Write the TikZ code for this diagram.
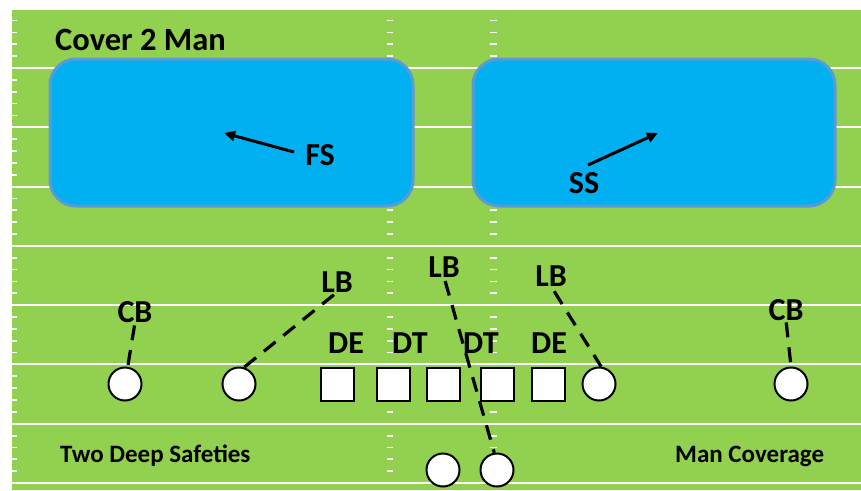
\documentclass[tikz,border=0pt]{standalone}
\usepackage{fontspec}
\setmainfont{Carlito}
\usetikzlibrary{arrows.meta}
\definecolor{turf}{HTML}{92D050}
\definecolor{zonefill}{HTML}{00B0F0}
\definecolor{zoneedge}{HTML}{5B9BD5}
\begin{document}
\begin{tikzpicture}[x=1pt,y=-1pt,
  yardline/.style={white,line width=2pt},
  hashmark/.style={white,line width=1.8pt},
  zone/.style={rectangle,rounded corners=26pt,fill=zonefill,draw=zoneedge,line width=3pt,inner sep=0pt},
  lbl/.style={font=\fontsize{32}{32}\selectfont\bfseries,inner sep=0pt,anchor=base},
  caption/.style={font=\fontsize{25}{25}\selectfont\bfseries,inner sep=0pt,anchor=base west},
  man/.style={circle,draw=black,line width=2pt,fill=white,minimum size=33pt,inner sep=0pt},
  lineman/.style={rectangle,draw=black,line width=2pt,fill=white,minimum size=33pt,inner sep=0pt},
  coverage/.style={line width=3.2pt,dash pattern=on 15pt off 10pt},
  drop/.style={line width=3pt,-{Triangle[length=11pt,width=10pt]}}]
\useasboundingbox (0,0) rectangle (861,490);
% field
\fill[white] (0,0) rectangle (861,490);
\fill[turf] (11,10) rectangle (861,490);
\draw[white,line width=1pt] (11.5,10) -- (11.5,490);
% yard lines
\foreach \k in {0,...,7}
  \draw[yardline] (11,68+59.29*\k) -- (861,68+59.29*\k);
% hash marks: sideline and the two inbound columns
\foreach \k in {-1,...,6}
  \foreach \m in {1,...,4} {
    \draw[hashmark] (11,68+59.29*\k+11.858*\m) -- (17,68+59.29*\k+11.858*\m);
    \draw[hashmark] (387,68+59.29*\k+11.858*\m) -- (393,68+59.29*\k+11.858*\m);
    \draw[hashmark] (490,68+59.29*\k+11.858*\m) -- (497,68+59.29*\k+11.858*\m);
  }
% deep zones
\node[zone,minimum width=363pt,minimum height=147pt] (zoneL) at (231.5,132.5) {};
\node[zone,minimum width=362pt,minimum height=147pt] (zoneR) at (654,132.5) {};
% titles
\node[font=\fontsize{32.5}{33}\selectfont\bfseries,inner sep=0pt,anchor=base west] (title) at (55,50) {Cover 2 Man};
\node[caption] (capL) at (60,462) {Two Deep Safeties};
\node[caption] (capR) at (675,462) {Man Coverage};
% safeties
\node[lbl] (fs) at (320,165) {FS};
\node[lbl] (ss) at (584,193) {SS};
\coordinate (fsTail) at (294,152);
\coordinate (fsTip) at (224,133);
\coordinate (ssTail) at (588,165);
\coordinate (ssTip) at (658,133);
\draw[drop] (fsTail) -- (fsTip);
\draw[drop] (ssTail) -- (ssTip);
% players
\node[man] (cbL) at (125,384) {};
\node[man] (olbL) at (239,384) {};
\node[man] (olbR) at (599,384) {};
\node[man] (cbR) at (791,384) {};
\node[man] (rbL) at (443,470) {};
\node[man] (rbR) at (497,470) {};
\node[lineman] (deL) at (337.5,384.5) {};
\node[lineman] (dtL) at (393,384.5) {};
\node[lineman] (ctr) at (443.5,384.5) {};
\node[lineman] (dtR) at (497,384.5) {};
\node[lineman] (deR) at (548,384.5) {};
% position labels
\node[lbl] (cbLtxt) at (135,322) {CB};
\node[lbl] (lbLtxt) at (337,292) {LB};
\node[lbl] (lbMtxt) at (444,277) {LB};
\node[lbl] (lbRtxt) at (551,286) {LB};
\node[lbl] (cbRtxt) at (786,320) {CB};
\node[lbl] (deLtxt) at (346,353) {DE};
\node[lbl] (dtLtxt) at (410,353) {DT};
\node[lbl] (dtRtxt) at (481,353) {DT};
\node[lbl] (deRtxt) at (549,353) {DE};
% man assignments
\draw[coverage,shorten <=3pt] (cbLtxt.south) -- (cbL.81);
\draw[coverage,shorten <=4pt] (lbLtxt.south) -- (olbL.73);
\draw[coverage,shorten <=4pt] (lbMtxt.south) -- (rbR.99);
\draw[coverage,shorten <=6pt] (lbRtxt.south) -- (olbR.83);
\draw[coverage,shorten <=2pt] (cbRtxt.south) -- (cbR.north);
\end{tikzpicture}
\end{document}
